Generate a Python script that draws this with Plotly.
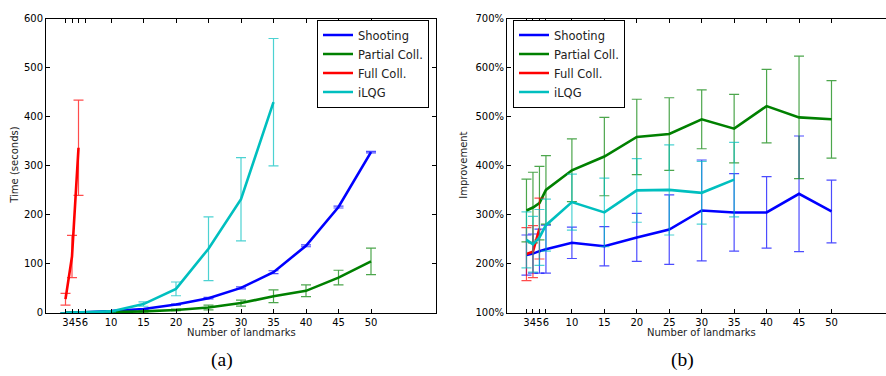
import plotly.graph_objects as go

# ---------------- data ----------------
x_all = [3, 4, 5, 6, 10, 15, 20, 25, 30, 35, 40, 45, 50]
x_full = [3, 4, 5]
x_ilqg = [3, 4, 5, 6, 10, 15, 20, 25, 30, 35]
x_ticks = [3, 4, 5, 6, 10, 15, 20, 25, 30, 35, 40, 45, 50]

# (a) time in seconds
shoot_time = [0.3, 0.5, 0.8, 1.2, 3.5, 8, 17, 30, 51, 83, 137, 216, 328]
shoot_time_err = [0.1, 0.1, 0.2, 0.3, 0.5, 1, 1, 1.5, 2, 3, 2, 2, 1.5]
partial_time = [0.1, 0.2, 0.3, 0.4, 1.5, 3, 6, 11, 20, 34, 45, 72, 105]
partial_time_err = [0.1, 0.1, 0.1, 0.2, 0.5, 1, 1.5, 5, 6, 13, 12, 15, 27]
full_time = [28, 115, 337]
full_time_err = [12, 43, 97]
ilqg_time = [0.3, 0.5, 0.8, 1.2, 3, 18, 49, 131, 232, 430]
ilqg_time_err = [0.2, 0.2, 0.3, 0.4, 1, 4.5, 14, 65, 85, 130]

# (b) improvement in percent
shoot_imp = [218, 221, 226, 230, 243, 236, 254, 270, 309, 305, 305, 343, 307]
shoot_imp_err = [41, 40, 45, 49, 32, 40, 49, 71, 103, 79, 73, 118, 64]
partial_imp = [309, 315, 324, 351, 391, 419, 459, 465, 495, 476, 522, 499, 495]
partial_imp_err = [64, 72, 75, 70, 64, 80, 77, 74, 60, 70, 75, 125, 79]
full_imp = [220, 225, 272]
full_imp_err = [54, 53, 62]
ilqg_imp = [249, 240, 254, 279, 326, 305, 350, 351, 345, 372]
ilqg_imp_err = [57, 57, 57, 53, 57, 70, 65, 92, 64, 76]

names = ["Shooting", "Partial Coll.", "Full Coll.", "iLQG"]
colors = ["#0000ff", "#008000", "#ff0000", "#00bfbf"]
err_colors = ["rgba(0,0,255,0.7)", "rgba(0,128,0,0.7)", "rgba(255,0,0,0.7)", "rgba(0,191,191,0.7)"]

W, H = 886, 376
fig = go.Figure()

def add(x, y, e, i, xa, ya, leg):
    fig.add_trace(go.Scatter(
        x=x, y=y, mode="lines", name=names[i],
        line=dict(color=colors[i], width=2.6),
        error_y=dict(type="data", array=e, visible=True, color=err_colors[i],
                     thickness=1.2, width=5),
        xaxis=xa, yaxis=ya, legend=leg, showlegend=True))

add(x_all, shoot_time, shoot_time_err, 0, "x", "y", "legend")
add(x_all, partial_time, partial_time_err, 1, "x", "y", "legend")
add(x_full, full_time, full_time_err, 2, "x", "y", "legend")
add(x_ilqg, ilqg_time, ilqg_time_err, 3, "x", "y", "legend")

add(x_all, shoot_imp, shoot_imp_err, 0, "x2", "y2", "legend2")
add(x_all, partial_imp, partial_imp_err, 1, "x2", "y2", "legend2")
add(x_full, full_imp, full_imp_err, 2, "x2", "y2", "legend2")
add(x_ilqg, ilqg_imp, ilqg_imp_err, 3, "x2", "y2", "legend2")

tickfont = dict(family="DejaVu Sans", size=10, color="#000")
ydom = [(376 - 317) / H, (376 - 13.3) / H]

common_x = dict(tickvals=x_ticks, ticktext=[str(v) for v in x_ticks], ticks="inside",
                ticklen=4, tickcolor="#000", showgrid=False, zeroline=False, tickangle=0,
                showline=True, linecolor="#000", linewidth=1, tickfont=tickfont)

legfont = dict(family="DejaVu Sans", size=11.5, color="#222")

fig.update_layout(
    width=W, height=H, margin=dict(l=0, r=0, t=0, b=0),
    paper_bgcolor="white", plot_bgcolor="white",
    xaxis=dict(domain=[46 / W, 436 / W], range=[0, 60], mirror="ticks", anchor="y", **common_x),
    yaxis=dict(domain=ydom, range=[0, 600], tickvals=[0, 100, 200, 300, 400, 500, 600],
               ticks="inside", ticklen=4, tickcolor="#000", showgrid=False, zeroline=False,
               showline=True, linecolor="#000", linewidth=1, mirror="ticks", tickfont=tickfont,
               anchor="x"),
    xaxis2=dict(domain=[507 / W, 1.0], range=[0, 58.4], mirror="ticks", anchor="y2", **common_x),
    yaxis2=dict(domain=ydom, range=[100, 700], tickvals=[100, 200, 300, 400, 500, 600, 700],
                ticktext=["100%", "200%", "300%", "400%", "500%", "600%", "700%"],
                ticks="inside", ticklen=4, tickcolor="#000", showgrid=False, zeroline=False,
                showline=True, linecolor="#000", linewidth=1, tickfont=tickfont, anchor="x2"),
    legend=dict(x=317 / W, y=(376 - 14) / H, xanchor="left", yanchor="top",
                bordercolor="#000", borderwidth=1, bgcolor="white", font=legfont,
                tracegroupgap=0, itemwidth=30),
    legend2=dict(x=513 / W, y=(376 - 14) / H, xanchor="left", yanchor="top",
                 bordercolor="#000", borderwidth=1, bgcolor="white", font=legfont,
                 tracegroupgap=0, itemwidth=30),
    showlegend=True,
)

af = dict(family="DejaVu Sans", size=10, color="#222")
capfont = dict(family="Liberation Serif", size=19.5, color="#000")
annots = [
    dict(text="Time (seconds)", x=15 / W, y=(376 - 165) / H, textangle=-90, font=af),
    dict(text="Number of landmarks", x=241.5 / W, y=(376 - 337) / H, font=af),
    dict(text="Improvement", x=464 / W, y=(376 - 165) / H, textangle=-90, font=af),
    dict(text="Number of landmarks", x=701.5 / W, y=(376 - 337) / H, font=af),
    dict(text="(a)", x=222 / W, y=(376 - 366) / H, font=capfont),
    dict(text="(b)", x=682 / W, y=(376 - 366) / H, font=capfont),
]
for a in annots:
    fig.add_annotation(xref="paper", yref="paper", showarrow=False,
                       xanchor="center", yanchor="middle", **a)

fig.write_html("out.html", config={"displayModeBar": False},
               post_script="document.body.style.margin='0';document.body.style.overflow='hidden';")
